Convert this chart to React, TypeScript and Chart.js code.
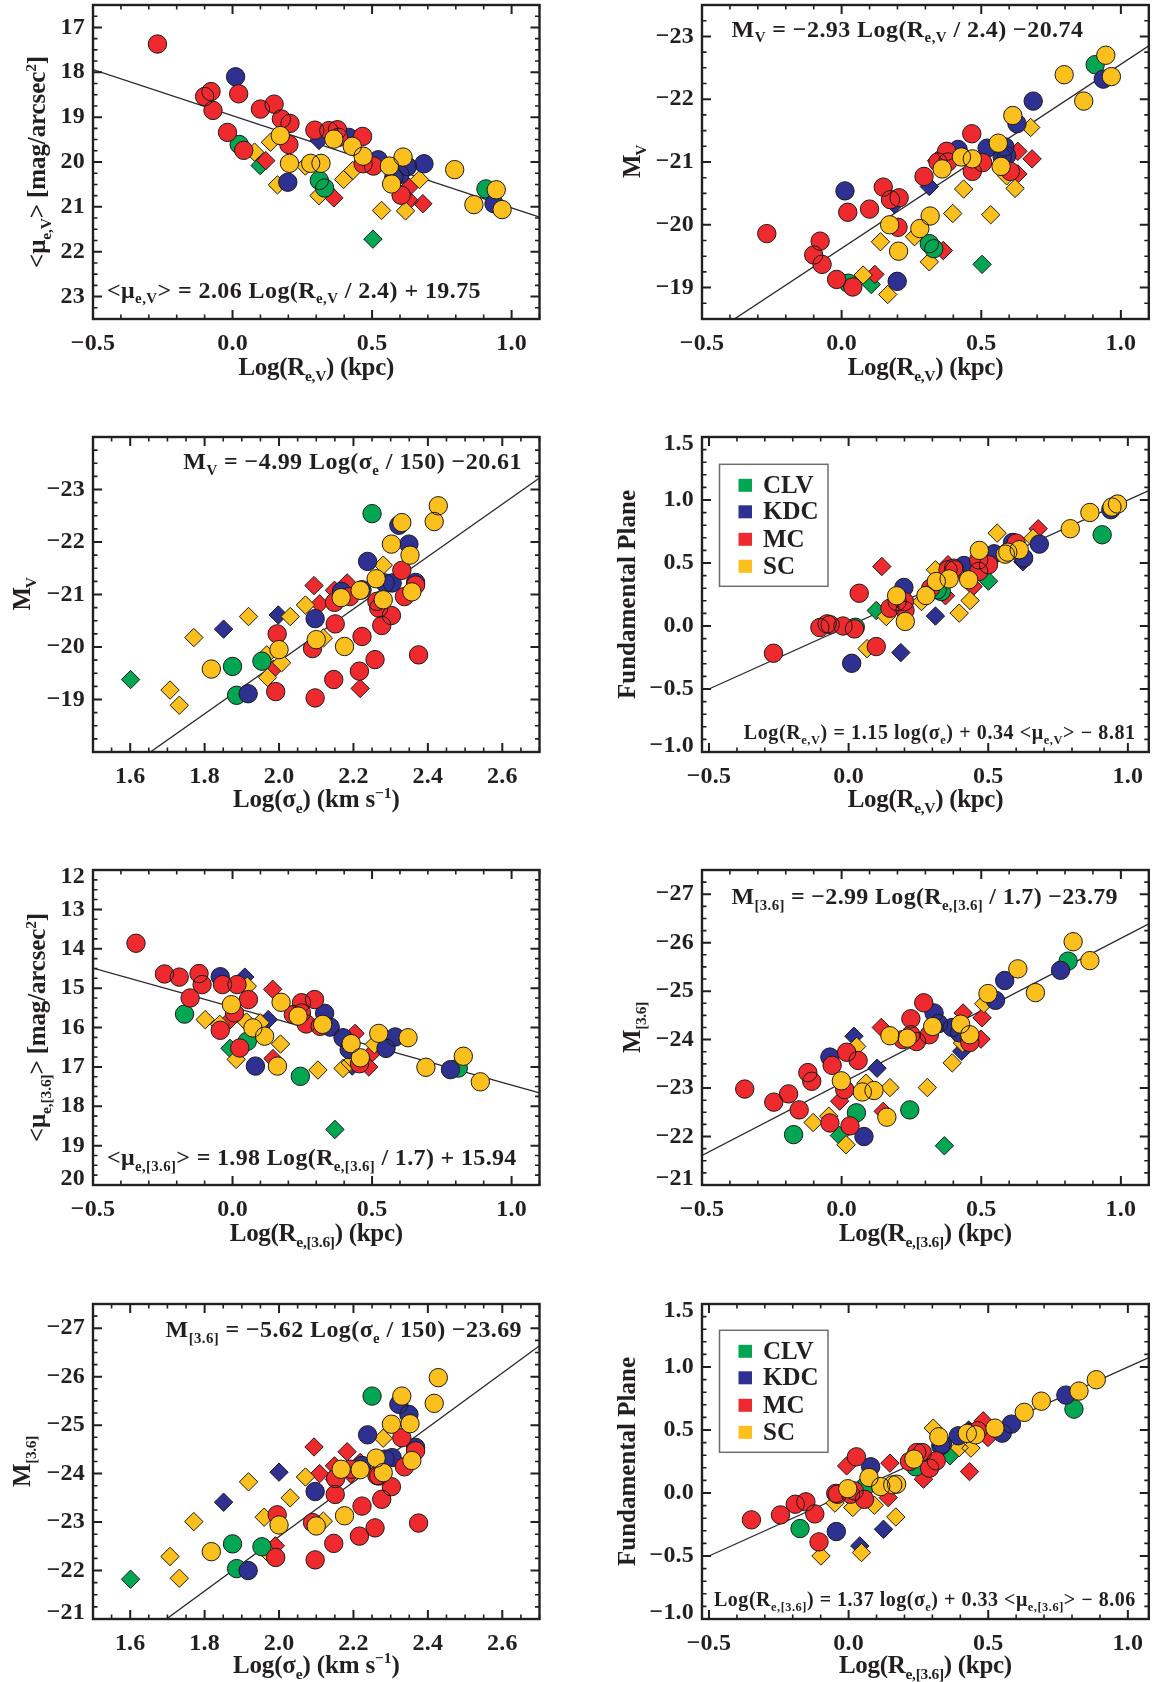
import React, { useEffect, useRef } from "react";
import { Chart, registerables } from "chart.js";

Chart.register(...registerables);

type Pt = number[];

// ---- class names and colours
const classNames = ["CLV", "KDC", "MC", "SC"];
const classColors = ["#00a651", "#2e3192", "#ee2a2e", "#fbbf1e"];

// ---- tick labels
const xTicksR = [-0.5, 0, 0.5, 1];
const xTicksSigma = [1.6, 1.8, 2.0, 2.2, 2.4, 2.6];
const yTicksMuV = [17, 18, 19, 20, 21, 22, 23];
const yTicksMV = [-23, -22, -21, -20, -19];
const yTicksFP = [-1, -0.5, 0, 0.5, 1, 1.5];
const yTicksMu36 = [12, 13, 14, 15, 16, 17, 18, 19, 20];
const yTicksM36 = [-27, -26, -25, -24, -23, -22, -21];

// ---- fit lines
const fit1 = [[-0.5, 17.94], [1.1, 21.23]];
const fit2 = [[-0.5, -18.16], [1.1, -22.85]];
const fit3 = [[1.5, -17.23], [2.7, -23.22]];
const fit4 = [[-0.5, -0.5], [1.075, 1.075]];
const fit5 = [[-0.5, 14.49], [1.1, 17.66]];
const fit6 = [[-0.5, -21.61], [1.1, -26.39]];
const fit7 = [[1.5, -19.89], [2.7, -26.64]];
const fit8 = [[-0.5, -0.5], [1.075, 1.075]];

// ---- panel 1: <mu_e,V> vs Log Re,V
const p1McC = [[-0.269,17.37],[-0.10,18.54],[-0.077,18.43],[-0.07,18.85],[-0.018,19.34],[0.022,18.48],[0.04,19.74],[0.10,18.82],[0.149,18.71],[0.175,19.04],[0.206,19.14],[0.202,19.61],[0.295,19.29],[0.345,19.3],[0.376,19.28],[0.38,19.45],[0.466,19.43],[0.468,20.04],[0.505,20.09],[0.604,20.74]];
const p1KdcC = [[0.011,18.10],[0.198,20.45],[0.416,19.45],[0.522,19.95],[0.578,20.34],[0.60,20.28],[0.627,20.1],[0.686,20.04],[0.937,20.93]];
const p1ScC = [[0.171,19.41],[0.204,20.03],[0.28,20.03],[0.317,20.03],[0.363,19.49],[0.429,19.65],[0.468,19.87],[0.562,20.09],[0.57,20.49],[0.611,19.89],[0.796,20.17],[0.865,20.95],[0.945,20.62],[0.966,21.06]];
const p1ClvC = [[0.024,19.61],[0.311,20.41],[0.33,20.58],[0.908,20.6]];
const p1ClvD = [[0.503,21.72],[0.099,20.08]];
const p1KdcD = [[0.31,19.52]];
const p1McD = [[0.119,19.97],[0.363,20.8],[0.633,20.56],[0.633,20.86],[0.682,20.93]];
const p1ScD = [[0.079,19.78],[0.136,19.56],[0.161,20.51],[0.261,20.09],[0.31,20.75],[0.398,20.39],[0.431,20.19],[0.534,21.08],[0.62,21.09],[0.67,20.39]];

// ---- panel 2: M_V vs Log Re,V
const p2McC = [[-0.268,-19.86],[-0.10,-19.52],[-0.077,-19.74],[-0.07,-19.37],[-0.018,-19.13],[0.022,-20.2],[0.04,-19.01],[0.10,-20.25],[0.149,-20.6],[0.175,-20.4],[0.206,-20.43],[0.202,-19.96],[0.295,-20.77],[0.345,-21.0],[0.376,-21.17],[0.38,-21.0],[0.466,-21.45],[0.468,-20.85],[0.505,-20.99],[0.604,-20.85]];
const p2KdcC = [[0.012,-20.54],[0.199,-19.1],[0.417,-21.2],[0.521,-21.22],[0.575,-21.08],[0.591,-21.1],[0.585,-21.24],[0.628,-21.61],[0.686,-21.97],[0.937,-22.32]];
const p2ScC = [[0.172,-20.0],[0.204,-19.58],[0.28,-19.94],[0.317,-20.14],[0.36,-20.89],[0.429,-21.08],[0.468,-21.05],[0.561,-21.3],[0.571,-20.93],[0.613,-21.74],[0.797,-22.39],[0.867,-21.97],[0.946,-22.7],[0.966,-22.36]];
const p2ClvC = [[0.024,-19.07],[0.314,-19.7],[0.33,-19.62],[0.908,-22.55]];
const p2ClvD = [[0.503,-19.37],[0.106,-19.05]];
const p2KdcD = [[0.314,-20.61],[0.189,-20.33]];
const p2McD = [[0.119,-19.21],[0.364,-19.59],[0.34,-21.02],[0.631,-21.17],[0.631,-20.81],[0.682,-21.05]];
const p2ScD = [[0.077,-19.2],[0.139,-19.73],[0.165,-18.89],[0.261,-19.81],[0.314,-19.41],[0.398,-20.18],[0.437,-20.57],[0.534,-20.16],[0.621,-20.58],[0.591,-20.78],[0.677,-21.55]];

// ---- panel 3: M_V vs Log sigma
const p3McC = [[1.995,-20.25],[1.991,-19.15],[2.09,-19.97],[2.097,-19.03],[2.147,-19.38],[2.151,-20.44],[2.149,-20.85],[2.19,-20.96],[2.216,-19.54],[2.223,-20.2],[2.258,-19.76],[2.263,-20.87],[2.268,-20.74],[2.276,-20.41],[2.302,-20.6],[2.33,-21.46],[2.337,-20.96],[2.367,-21.18],[2.375,-19.85]];
const p3KdcC = [[1.917,-19.11],[2.097,-20.54],[2.168,-21.06],[2.223,-21.09],[2.238,-21.63],[2.285,-21.22],[2.304,-21.22],[2.322,-22.32],[2.349,-21.96],[2.367,-21.23]];
const p3ScC = [[1.818,-19.58],[2.0,-19.95],[2.1,-20.14],[2.176,-20.01],[2.167,-20.94],[2.218,-21.08],[2.261,-21.3],[2.28,-20.9],[2.302,-21.96],[2.33,-22.37],[2.352,-21.75],[2.357,-21.05],[2.417,-22.39],[2.428,-22.69]];
const p3ClvC = [[1.875,-19.63],[1.886,-19.08],[1.954,-19.73],[2.25,-22.54]];
const p3ClvD = [[1.601,-19.38]];
const p3KdcD = [[1.851,-20.34],[1.998,-20.61]];
const p3McD = [[1.985,-19.58],[2.094,-21.17],[2.109,-20.82],[2.149,-21.08],[2.183,-21.22],[2.218,-19.21]];
const p3ScD = [[1.707,-19.18],[1.732,-18.89],[1.771,-20.18],[1.918,-20.58],[1.967,-19.85],[2.007,-19.7],[1.969,-19.42],[2.03,-20.58],[2.071,-20.8],[2.119,-20.17],[2.28,-21.56]];

// ---- panel 4: Fundamental plane (V)
const p4McC = [[-0.269,-0.216],[-0.103,-0.012],[-0.077,0.017],[-0.066,0.01],[-0.02,0],[0.021,-0.023],[0.038,0.26],[0.099,-0.163],[0.148,0.141],[0.174,0.194],[0.2,0.194],[0.202,0.123],[0.294,0.30],[0.356,0.446],[0.376,0.459],[0.38,0.446],[0.466,0.433],[0.466,0.525],[0.501,0.486],[0.6,0.658]];
const p4KdcC = [[0.011,-0.296],[0.198,0.306],[0.413,0.48],[0.521,0.573],[0.587,0.663],[0.6,0.63],[0.627,0.539],[0.683,0.65],[0.939,0.923]];
const p4ScC = [[0.172,0.24],[0.203,0.036],[0.277,0.242],[0.314,0.353],[0.36,0.374],[0.43,0.367],[0.468,0.6],[0.561,0.57],[0.57,0.586],[0.611,0.605],[0.794,0.772],[0.864,0.901],[0.943,0.944],[0.963,0.968]];
const p4ClvC = [[0.024,-0.01],[0.317,0.287],[0.332,0.274],[0.908,0.724]];
const p4ClvD = [[0.501,0.356],[0.099,0.123]];
const p4KdcD = [[0.187,-0.211],[0.311,0.079],[0.624,0.51]];
const p4McD = [[0.119,0.472],[0.347,0.24],[0.356,0.486],[0.446,0.313],[0.679,0.772]];
const p4ScD = [[0.135,0.075],[0.066,-0.18],[0.261,0.194],[0.311,0.446],[0.396,0.102],[0.435,0.202],[0.532,0.737],[0.66,0.698]];

// ---- panel 5: <mu_e,3.6> vs Log Re,3.6
const p5McC = [[-0.346,13.86],[-0.244,14.64],[-0.191,14.72],[-0.12,14.63],[-0.109,14.91],[-0.152,15.25],[-0.036,14.91],[0.016,14.91],[0.057,15.29],[0.007,15.63],[-0.044,16.07],[0.026,16.52],[0.218,15.67],[0.247,15.37],[0.247,15.63],[0.264,15.91],[0.294,15.29],[0.314,15.97],[0.455,16.92]];
const p5KdcC = [[-0.044,14.71],[0.082,16.98],[0.33,15.64],[0.35,15.99],[0.396,16.26],[0.418,16.56],[0.55,16.53],[0.583,16.24],[0.781,17.07]];
const p5ScC = [[-0.004,15.42],[0.073,16.01],[0.115,16.22],[0.161,16.98],[0.174,15.36],[0.235,15.71],[0.323,15.92],[0.425,16.41],[0.458,16.77],[0.524,16.15],[0.629,16.26],[0.693,17.01],[0.827,16.73],[0.888,17.38]];
const p5ClvC = [[-0.172,15.66],[0.053,16.35],[0.243,17.24],[0.809,17.03]];
const p5ClvD = [[0.367,18.59],[-0.009,16.53]];
const p5KdcD = [[0.044,14.72],[0.128,15.8],[0.429,16.98]];
const p5McD = [[0.144,15.03],[-0.011,15.82],[0.145,16.79],[0.439,16.15],[0.501,16.64],[0.488,17.0]];
const p5ScD = [[-0.098,15.8],[-0.046,15.92],[0.053,14.95],[0.05,15.86],[0.099,15.88],[0.172,16.42],[0.013,16.81],[0.306,17.08],[0.396,17.04],[0.508,16.43],[0.422,16.9]];

// ---- panel 6: M_3.6 vs Log Re,3.6
const p6McC = [[-0.347,-22.98],[-0.243,-22.71],[-0.19,-22.88],[-0.152,-22.55],[-0.121,-23.32],[-0.107,-23.14],[-0.042,-22.28],[-0.034,-23.47],[0.011,-22.97],[0.018,-23.74],[0.03,-22.22],[0.059,-23.57],[0.219,-24.0],[0.248,-24.43],[0.248,-24.1],[0.268,-23.96],[0.294,-24.76],[0.314,-24.1],[0.459,-23.94]];
const p6KdcC = [[-0.042,-23.64],[0.08,-22.0],[0.331,-24.55],[0.347,-24.33],[0.396,-24.25],[0.422,-24.14],[0.551,-24.81],[0.584,-25.22],[0.784,-25.43]];
const p6ScC = [[-0.001,-23.15],[0.074,-22.92],[0.116,-22.95],[0.162,-22.4],[0.173,-24.08],[0.235,-24.03],[0.326,-24.27],[0.426,-24.32],[0.459,-24.1],[0.524,-24.95],[0.631,-25.46],[0.694,-24.97],[0.829,-26.02],[0.889,-25.63]];
const p6ClvC = [[-0.172,-22.04],[0.053,-22.49],[0.244,-22.55],[0.811,-25.62]];
const p6ClvD = [[0.368,-21.81],[-0.008,-22.02]];
const p6KdcD = [[0.044,-24.07],[0.127,-23.41],[0.43,-23.76]];
const p6McD = [[-0.007,-22.73],[0.142,-24.25],[0.149,-22.52],[0.435,-24.55],[0.503,-24.45],[0.499,-24.01]];
const p6ScD = [[-0.102,-22.29],[-0.046,-22.42],[0.016,-21.83],[0.054,-23.86],[0.087,-23.1],[0.173,-23.01],[0.307,-23.01],[0.396,-23.52],[0.433,-23.93],[0.509,-24.74]];

// ---- panel 7: M_3.6 vs Log sigma
const p7McC = [[1.995,-23.15],[1.991,-22.27],[2.09,-22.99],[2.097,-22.22],[2.147,-22.56],[2.151,-23.57],[2.152,-23.9],[2.193,-24.09],[2.216,-22.71],[2.223,-23.33],[2.258,-22.88],[2.263,-23.96],[2.268,-23.95],[2.276,-23.47],[2.302,-23.73],[2.33,-24.74],[2.337,-24.14],[2.367,-24.47],[2.375,-22.98]];
const p7KdcC = [[1.917,-22.0],[2.097,-23.63],[2.223,-24.17],[2.238,-24.8],[2.285,-24.3],[2.304,-24.33],[2.322,-25.43],[2.349,-25.22],[2.367,-24.54]];
const p7ScC = [[1.818,-22.39],[2.0,-22.94],[2.1,-22.92],[2.176,-23.13],[2.167,-24.09],[2.218,-24.08],[2.261,-24.32],[2.28,-24.02],[2.302,-25.02],[2.33,-25.6],[2.352,-25.03],[2.357,-24.27],[2.417,-25.45],[2.428,-25.98]];
const p7ClvC = [[1.875,-22.55],[1.886,-22.04],[1.954,-22.49],[2.25,-25.6]];
const p7ClvD = [[1.601,-21.82]];
const p7KdcD = [[1.851,-23.41],[2.0,-24.03],[2.149,-23.88]];
const p7McD = [[1.99,-22.51],[2.094,-24.55],[2.109,-24.0],[2.149,-24.16],[2.183,-24.45],[2.218,-24.23],[2.193,-23.99]];
const p7ScD = [[1.707,-22.29],[1.732,-21.84],[1.771,-23.01],[1.918,-23.83],[1.96,-23.1],[1.975,-22.33],[2.03,-23.5],[2.071,-23.93],[2.119,-23.02],[2.28,-24.73]];

// ---- panel 8: Fundamental plane (3.6)
const p8McC = [[-0.348,-0.213],[-0.244,-0.174],[-0.191,-0.089],[-0.153,-0.07],[-0.121,-0.166],[-0.106,-0.388],[-0.046,-0.003],[-0.04,-0.01],[0.007,-0.01],[0.028,0.287],[0.02,0.017],[0.057,-0.05],[0.218,0.25],[0.244,0.321],[0.264,0.321],[0.29,0.197],[0.314,0.255],[0.462,0.494]];
const p8KdcC = [[-0.044,-0.306],[0.079,0.208],[0.33,0.374],[0.336,0.388],[0.393,0.454],[0.435,0.48],[0.55,0.475],[0.583,0.547],[0.778,0.777]];
const p8ScC = [[-0.003,0.034],[0.073,0.123],[0.115,0.051],[0.158,0.065],[0.172,0.07],[0.234,0.269],[0.323,0.446],[0.425,0.473],[0.455,0.462],[0.524,0.515],[0.629,0.64],[0.69,0.729],[0.825,0.809],[0.887,0.899]];
const p8ClvC = [[-0.174,-0.282],[0.059,0.05],[0.24,0.208],[0.807,0.666]];
const p8ClvD = [[0.363,0.295]];
const p8KdcD = [[0.125,-0.288],[0.04,-0.42],[0.43,0.5]];
const p8McD = [[-0.007,0.215],[0.148,0.237],[0.268,0.11],[0.142,-0.037],[0.433,0.17],[0.482,0.573],[0.499,0.44]];
const p8ScD = [[-0.099,-0.5],[-0.049,-0.08],[0.015,-0.115],[0.046,-0.473],[0.092,-0.097],[0.169,-0.19],[0.303,0.515],[0.396,0.36],[0.438,0.356]];

// ---- layout and styling
const FONT = '"Liberation Serif"';
const INK = "#231f20";
const COL = [{ L: 93, R: 539.5 }, { L: 702, R: 1151 }];
const ROW = [{ T: 4.5, B: 319 }, { T: 437, B: 752 }, { T: 870, B: 1185 }, { T: 1304, B: 1619 }];
const TICK_SIZE = 24;
const TITLE_SIZE = 25;
const NOTE_SIZE = 24;
const NOTE_SMALL = 20;

type TextSpec = { s: string; x0: number; x1: number; y: number; size: number };
type Cfg = {
  col: number; row: number;
  xr: number[]; yr: number[];
  xTicks: number[]; yTicks: number[];
  xMinor: number; yMinor: number;
  fit: Pt[];
  series: Pt[][]; // diamonds CLV,KDC,MC,SC then circles CLV,KDC,MC,SC
  note: TextSpec;
  xTitle: { s: string; w: number; y: number };
  yTitle: { s: string; w: number; x: number };
  legendTop?: number;
};

const xR = [-0.5, 1.1];
const xRF = [-0.525, 1.075];
const xS = [1.5, 2.7];
const xTV = "Log(R_{e,V}) (kpc)";
const xT36 = "Log(R_{e,[3.6]}) (kpc)";
const xTS = "Log(σ_{e}) (km s^{−1})";

const panels: Cfg[] = [
  { col: 0, row: 0, xr: xR, yr: [16.5, 23.5], xTicks: xTicksR, yTicks: yTicksMuV, xMinor: 0.1, yMinor: 0.25, fit: fit1,
    series: [p1ClvD, p1KdcD, p1McD, p1ScD, p1ClvC, p1KdcC, p1McC, p1ScC],
    note: { s: "<μ_{e,V}> = 2.06 Log(R_{e,V} / 2.4) + 19.75", x0: 107, x1: 481, y: 297, size: NOTE_SIZE },
    xTitle: { s: xTV, w: 155.5, y: 374 }, yTitle: { s: "<μ_{e,V}> [mag/arcsec^{2}]", w: 212, x: 45 } },
  { col: 1, row: 0, xr: xR, yr: [-23.5, -18.5], xTicks: xTicksR, yTicks: yTicksMV, xMinor: 0.1, yMinor: 0.25, fit: fit2,
    series: [p2ClvD, p2KdcD, p2McD, p2ScD, p2ClvC, p2KdcC, p2McC, p2ScC],
    note: { s: "M_{V} = −2.93 Log(R_{e,V} / 2.4) −20.74", x0: 731.6, x1: 1083.4, y: 36, size: NOTE_SIZE },
    xTitle: { s: xTV, w: 155.5, y: 374 }, yTitle: { s: "M_{V}", w: 32, x: 640 } },
  { col: 0, row: 1, xr: xS, yr: [-24, -18], xTicks: xTicksSigma, yTicks: yTicksMV, xMinor: 0.05, yMinor: 0.25, fit: fit3,
    series: [p3ClvD, p3KdcD, p3McD, p3ScD, p3ClvC, p3KdcC, p3McC, p3ScC],
    note: { s: "M_{V} = −4.99 Log(σ_{e} / 150) −20.61", x0: 183.3, x1: 522, y: 469, size: NOTE_SIZE },
    xTitle: { s: xTS, w: 166.7, y: 807 }, yTitle: { s: "M_{V}", w: 32, x: 30 } },
  { col: 1, row: 1, xr: xRF, yr: [-1, 1.5], xTicks: xTicksR, yTicks: yTicksFP, xMinor: 0.1, yMinor: 0.1, fit: fit4,
    series: [p4ClvD, p4KdcD, p4McD, p4ScD, p4ClvC, p4KdcC, p4McC, p4ScC],
    note: { s: "Log(R_{e,V}) = 1.15 log(σ_{e}) + 0.34 <μ_{e,V}> − 8.81", x0: 743.8, x1: 1135.7, y: 739.3, size: NOTE_SMALL },
    xTitle: { s: xTV, w: 155.5, y: 807 }, yTitle: { s: "Fundamental Plane", w: 209, x: 634.5 }, legendTop: 464.3 },
  { col: 0, row: 2, xr: xR, yr: [12, 20], xTicks: xTicksR, yTicks: yTicksMu36, xMinor: 0.1, yMinor: 0.25, fit: fit5,
    series: [p5ClvD, p5KdcD, p5McD, p5ScD, p5ClvC, p5KdcC, p5McC, p5ScC],
    note: { s: "<μ_{e,[3.6]}> = 1.98 Log(R_{e,[3.6]} / 1.7) + 15.94", x0: 107, x1: 516.7, y: 1165, size: NOTE_SIZE },
    xTitle: { s: xT36, w: 173, y: 1240.7 }, yTitle: { s: "<μ_{e,[3.6]}> [mag/arcsec^{2}]", w: 229, x: 45 } },
  { col: 1, row: 2, xr: xR, yr: [-27.5, -21], xTicks: xTicksR, yTicks: yTicksM36, xMinor: 0.1, yMinor: 0.25, fit: fit6,
    series: [p6ClvD, p6KdcD, p6McD, p6ScD, p6ClvC, p6KdcC, p6McC, p6ScC],
    note: { s: "M_{[3.6]} = −2.99 Log(R_{e,[3.6]} / 1.7) −23.79", x0: 731.6, x1: 1117.9, y: 904.3, size: NOTE_SIZE },
    xTitle: { s: xT36, w: 173, y: 1240.7 }, yTitle: { s: "M_{[3.6]}", w: 51, x: 640 } },
  { col: 0, row: 3, xr: xS, yr: [-27.5, -21], xTicks: xTicksSigma, yTicks: yTicksM36, xMinor: 0.05, yMinor: 0.25, fit: fit7,
    series: [p7ClvD, p7KdcD, p7McD, p7ScD, p7ClvC, p7KdcC, p7McC, p7ScC],
    note: { s: "M_{[3.6]} = −5.62 Log(σ_{e} / 150) −23.69", x0: 165.6, x1: 522, y: 1337, size: NOTE_SIZE },
    xTitle: { s: xTS, w: 166.7, y: 1672.7 }, yTitle: { s: "M_{[3.6]}", w: 51, x: 30 } },
  { col: 1, row: 3, xr: xRF, yr: [-1, 1.5], xTicks: xTicksR, yTicks: yTicksFP, xMinor: 0.1, yMinor: 0.1, fit: fit8,
    series: [p8ClvD, p8KdcD, p8McD, p8ScD, p8ClvC, p8KdcC, p8McC, p8ScC],
    note: { s: "Log(R_{e,[3.6]}) = 1.37 log(σ_{e}) + 0.33 <μ_{e,[3.6]}> − 8.06", x0: 714, x1: 1135.7, y: 1606, size: NOTE_SMALL },
    xTitle: { s: xT36, w: 173, y: 1672.7 }, yTitle: { s: "Fundamental Plane", w: 209, x: 634.5 }, legendTop: 1330.3 },
];

// ---- rich text ( _{sub} and ^{sup} )
function parseRich(s: string) {
  const out: { t: string; m: number }[] = [];
  const re = /_\{([^}]*)\}|\^\{([^}]*)\}/g;
  let i = 0, r: RegExpExecArray | null;
  while ((r = re.exec(s))) {
    if (r.index > i) out.push({ t: s.slice(i, r.index), m: 0 });
    out.push(r[1] !== undefined ? { t: r[1], m: 1 } : { t: r[2], m: 2 });
    i = r.index + r[0].length;
  }
  if (i < s.length) out.push({ t: s.slice(i), m: 0 });
  return out;
}
function richFont(size: number, m: number) {
  return `bold ${m ? size * 0.62 : size}px ${FONT}`;
}
// draws at (x,y) baseline, starting from x, stretched to exactly `width`
function drawRich(ctx: any, s: string, x: number, y: number, size: number, width: number) {
  const segs = parseRich(s);
  ctx.letterSpacing = "0px";
  let natural = 0, chars = 0;
  for (const g of segs) {
    ctx.font = richFont(size, g.m);
    natural += ctx.measureText(g.t).width;
    chars += g.t.length;
  }
  const ls = (width - natural) / chars;
  let cx = x;
  ctx.fillStyle = INK;
  ctx.textAlign = "left";
  ctx.textBaseline = "alphabetic";
  for (const g of segs) {
    ctx.font = richFont(size, g.m);
    ctx.letterSpacing = `${ls}px`;
    const dy = g.m === 1 ? size * 0.24 : g.m === 2 ? -size * 0.38 : 0;
    ctx.fillText(g.t, cx, y + dy);
    cx += ctx.measureText(g.t).width;
  }
  ctx.letterSpacing = "0px";
}

const fmtTick = (v: number, digits: number) => {
  const t = Math.abs(v).toFixed(digits);
  return v < 0 ? "\u2212" + t : t;
};

function makePlugin(cfg: Cfg, ox: number, oy: number) {
  return {
    id: "figure",
    beforeDraw(chart: any) {
      chart.ctx.letterSpacing = "0.2px";
    },
    afterDatasetDraw(chart: any, args: any) {
      const ds = chart.data.datasets[args.index];
      if (ds.showLine) return;
      const ctx = chart.ctx;
      const a = chart.chartArea;
      ctx.save();
      ctx.beginPath();
      ctx.rect(a.left, a.top, a.width, a.height);
      ctx.clip();
      ctx.strokeStyle = "#1c1a1a";
      ctx.lineWidth = 1;
      for (const el of args.meta.data) {
        const r = ds.pointRadius;
        ctx.beginPath();
        if (ds.pointStyle === "circle") ctx.arc(el.x, el.y, r, 0, Math.PI * 2);
        else {
          ctx.moveTo(el.x, el.y - r);
          ctx.lineTo(el.x + r, el.y);
          ctx.lineTo(el.x, el.y + r);
          ctx.lineTo(el.x - r, el.y);
          ctx.closePath();
        }
        ctx.stroke();
      }
      ctx.restore();
    },
    afterDraw(chart: any) {
      const ctx = chart.ctx;
      const a = chart.chartArea;
      const xs = chart.scales.x, ys = chart.scales.y;
      ctx.save();
      // inward ticks on all four sides
      ctx.strokeStyle = INK;
      const isMajor = (v: number, list: number[]) => list.some((m) => Math.abs(m - v) < 1e-6);
      const stepper = (mn: number, mx: number, st: number, cb: (v: number) => void) => {
        const k0 = Math.ceil(mn / st - 1e-6), k1 = Math.floor(mx / st + 1e-6);
        for (let k = k0; k <= k1; k++) cb(k * st);
      };
      stepper(cfg.xr[0], cfg.xr[1], cfg.xMinor, (v) => {
        const p = xs.getPixelForValue(v);
        const maj = isMajor(v, cfg.xTicks);
        const len = maj ? 9 : 4.5;
        ctx.lineWidth = maj ? 2 : 1.6;
        ctx.beginPath();
        ctx.moveTo(p, a.bottom); ctx.lineTo(p, a.bottom - len);
        ctx.moveTo(p, a.top); ctx.lineTo(p, a.top + len);
        ctx.stroke();
      });
      const yLo = Math.min(cfg.yr[0], cfg.yr[1]), yHi = Math.max(cfg.yr[0], cfg.yr[1]);
      stepper(yLo, yHi, cfg.yMinor, (v) => {
        const p = ys.getPixelForValue(v);
        const maj = isMajor(v, cfg.yTicks);
        const len = maj ? 9 : 4.5;
        ctx.lineWidth = maj ? 2 : 1.6;
        ctx.beginPath();
        ctx.moveTo(a.left, p); ctx.lineTo(a.left + len, p);
        ctx.moveTo(a.right, p); ctx.lineTo(a.right - len, p);
        ctx.stroke();
      });
      // frame
      ctx.lineWidth = 2.4;
      ctx.strokeRect(a.left, a.top, a.width, a.height);

      // texts, in page coordinates
      ctx.translate(-ox, -oy);
      drawRich(ctx, cfg.note.s, cfg.note.x0, cfg.note.y, cfg.note.size, cfg.note.x1 - cfg.note.x0);
      const cxPage = (a.left + a.right) / 2 + ox;
      const cyPage = (a.top + a.bottom) / 2 + oy;
      drawRich(ctx, cfg.xTitle.s, cxPage - cfg.xTitle.w / 2, cfg.xTitle.y, TITLE_SIZE, cfg.xTitle.w);
      ctx.save();
      ctx.translate(cfg.yTitle.x, cyPage);
      ctx.rotate(-Math.PI / 2);
      drawRich(ctx, cfg.yTitle.s, -cfg.yTitle.w / 2, 0, TITLE_SIZE, cfg.yTitle.w);
      ctx.restore();

      if (cfg.legendTop !== undefined) {
        const top = cfg.legendTop;
        ctx.strokeStyle = "#6d6e70";
        ctx.lineWidth = 1.5;
        ctx.strokeRect(719.5, top, 108.5, 122);
        const rows = [21, 47.5, 75, 102];
        classNames.forEach((name, i) => {
          const cy = top + rows[i];
          ctx.fillStyle = classColors[i];
          ctx.fillRect(738.5, cy - 6.5, 13.5, 13);
          ctx.fillStyle = INK;
          ctx.font = `bold 25px ${FONT}`;
          ctx.textAlign = "left";
          ctx.textBaseline = "middle";
          ctx.letterSpacing = "0px";
          ctx.fillText(name, 763, cy + 1);
        });
      }
      ctx.restore();
    },
  };
}

function Panel({ cfg }: { cfg: Cfg }) {
  const ref = useRef<HTMLCanvasElement | null>(null);
  const { L, R } = COL[cfg.col];
  const { T, B } = ROW[cfg.row];
  const ox = cfg.col === 0 ? 0 : 579;
  const oy = T - 30;
  const W = 579;
  const H = B - T + 30 + 72;

  useEffect(() => {
    if (!ref.current) return;
    const styles = [
      { style: "rectRot", r: 9.2 },
      { style: "circle", r: 9.2 },
    ];
    const datasets: any[] = [];
    // the first dataset is painted last: reverse order, the fit line at the very bottom
    for (let i = cfg.series.length - 1; i >= 0; i--) {
      const kind = i >= 4 ? styles[1] : styles[0];
      const c = i % 4;
      datasets.push({
        label: `${classNames[c]} ${i >= 4 ? "circle" : "diamond"}`,
        data: cfg.series[i].map((p) => ({ x: p[0], y: p[1] })),
        pointStyle: kind.style,
        pointRadius: kind.r,
        pointBackgroundColor: classColors[c],
        pointBorderWidth: 0,
        showLine: false,
      });
    }
    datasets.push({
      label: "fit",
      data: cfg.fit.map((p) => ({ x: p[0], y: p[1] })),
      showLine: true,
      pointRadius: 0,
      borderColor: "#2a2728",
      borderWidth: 1.3,
    });
    const xDigits = 1;
    const yDigits = cfg.yTicks.some((v) => !Number.isInteger(v)) ? 1 : 0;
    const yEdgeLow = Math.min(cfg.yr[0], cfg.yr[1]);
    const yEdgeHigh = Math.max(cfg.yr[0], cfg.yr[1]);
    const yReverse = cfg.yr[0] !== -1;
    const chart = new Chart(ref.current, {
      type: "scatter",
      data: { datasets },
      plugins: [makePlugin(cfg, ox, oy)],
      options: {
        responsive: false,
        animation: false,
        layout: { padding: { top: 30, right: W - (R - ox), bottom: 0, left: 0 } },
        plugins: { legend: { display: false }, title: { display: false }, tooltip: { enabled: false } },
        scales: {
          x: {
            type: "linear",
            min: cfg.xr[0],
            max: cfg.xr[1],
            grid: { display: false, drawTicks: false },
            border: { display: false },
            afterBuildTicks: (s: any) => { s.ticks = cfg.xTicks.map((value) => ({ value })); },
            afterFit: (s: any) => { s.height = 72; s.paddingLeft = 0; s.paddingRight = 0; },
            ticks: {
              autoSkip: false, maxRotation: 0, padding: 10, color: INK,
              font: { family: FONT, weight: "bold", size: TICK_SIZE },
              callback: (v: any) => fmtTick(Number(v), xDigits),
            },
          },
          y: {
            type: "linear",
            min: yEdgeLow,
            max: yEdgeHigh,
            reverse: yReverse,
            grid: { display: false, drawTicks: false },
            border: { display: false },
            afterBuildTicks: (s: any) => { s.ticks = cfg.yTicks.map((value) => ({ value })); },
            afterFit: (s: any) => { s.width = L - ox; s.paddingTop = 0; s.paddingBottom = 0; },
            ticks: {
              autoSkip: false, padding: 8, color: INK,
              font: { family: FONT, weight: "bold", size: TICK_SIZE, lineHeight: "13px" },
              callback: (v: any) => {
                const val = Number(v);
                const t = fmtTick(val, yDigits);
                const atTop = yReverse ? val === yEdgeLow : val === yEdgeHigh;
                const atBottom = yReverse ? val === yEdgeHigh : val === yEdgeLow;
                if (atTop) return ["", t];
                if (atBottom) return [t, ""];
                return t;
              },
            },
          },
        },
      },
    } as any);
    return () => chart.destroy();
  }, []);

  return (
    <canvas
      ref={ref}
      width={W}
      height={H}
      style={{ position: "absolute", left: ox, top: oy, width: W, height: H }}
    />
  );
}

export default function App() {
  return (
    <div style={{ position: "absolute", left: 0, top: 0, width: 1158, height: 1682, overflow: "hidden", background: "#fff" }}>
      {panels.map((cfg, i) => (
        <Panel key={i} cfg={cfg} />
      ))}
    </div>
  );
}
